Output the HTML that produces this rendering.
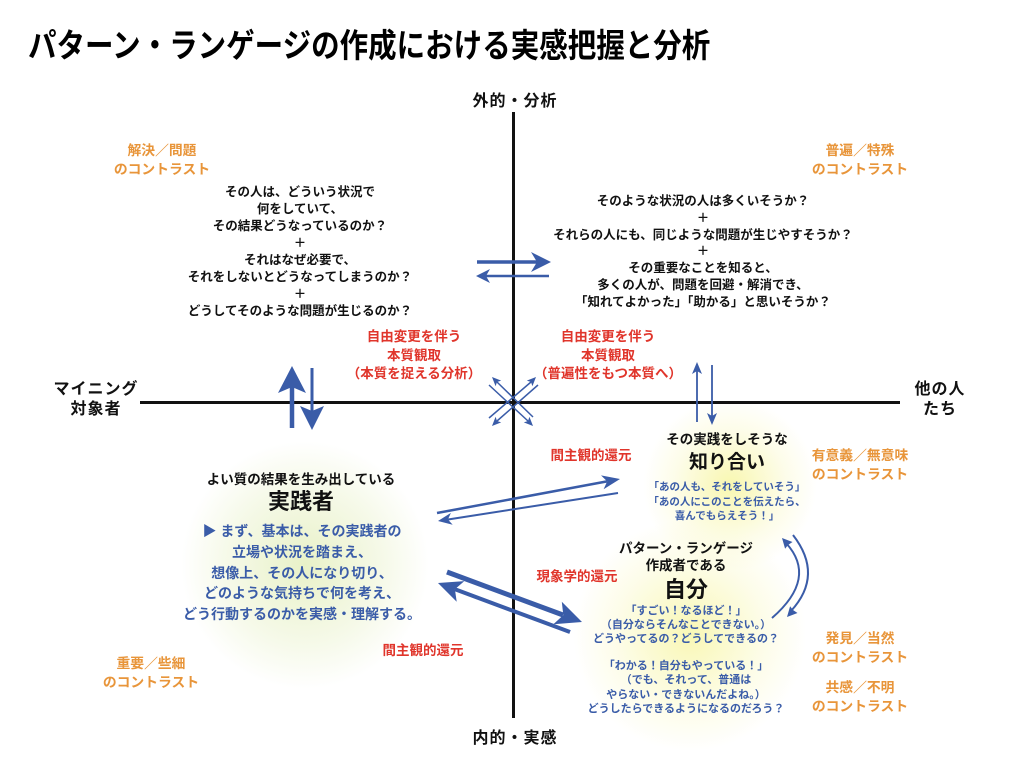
<!DOCTYPE html>
<html lang="ja">
<head>
<meta charset="utf-8">
<style>
  html,body{margin:0;padding:0;background:#fff;}
  body{width:1024px;height:768px;position:relative;overflow:hidden;
       font-family:"Liberation Sans","Noto Sans CJK JP",sans-serif;font-weight:700;color:#111;}
  .t{position:absolute;text-align:center;white-space:nowrap;transform:translateX(-50%);}
  .or{color:#e8953a;font-size:13.8px;line-height:19px;}
  .rd{color:#e0352b;font-size:13.5px;line-height:18.5px;}
  .bl{color:#3a5ca8;}
  .q{font-size:12.5px;line-height:17px;color:#111;}
  .ax{font-size:16px;line-height:20px;letter-spacing:1px;}
  .glow{position:absolute;border-radius:50%;}
  svg{position:absolute;left:0;top:0;}
</style>
</head>
<body>

<!-- glows -->
<div class="glow" style="left:180px;top:440px;width:250px;height:250px;background:radial-gradient(circle, rgba(220,234,170,0.65) 0%, rgba(232,241,200,0.4) 45%, rgba(255,255,255,0) 70%);"></div>
<div class="glow" style="left:640px;top:400px;width:180px;height:170px;background:radial-gradient(circle, rgba(246,244,150,0.75) 0%, rgba(250,249,200,0.4) 45%, rgba(255,255,255,0) 70%);"></div>
<div class="glow" style="left:570px;top:520px;width:240px;height:230px;background:radial-gradient(circle, rgba(246,244,150,0.7) 0%, rgba(250,249,200,0.4) 45%, rgba(255,255,255,0) 70%);"></div>

<svg width="1024" height="768" viewBox="0 0 1024 768">
  <!-- axes -->
  <line x1="513.5" y1="112" x2="513.5" y2="718" stroke="#111" stroke-width="3"/>
  <line x1="140" y1="402.5" x2="900" y2="402.5" stroke="#111" stroke-width="3"/>

  <g fill="#3a5ca8" stroke="none">
    <!-- horizontal arrows top -->
    <line x1="477" y1="262" x2="537" y2="262" stroke="#3a5ca8" stroke-width="3.5"/>
    <polygon points="551,262 531,272 537,262 531,252"/>
    <line x1="486" y1="276" x2="549" y2="276" stroke="#3a5ca8" stroke-width="2.5"/>
    <polygon points="476,276 490,283 486,276 490,269"/>

    <!-- left vertical arrows -->
    <line x1="292" y1="428" x2="292" y2="387" stroke="#3a5ca8" stroke-width="4.5"/>
    <polygon points="292,366 306,393 292,387 278,393"/>
    <line x1="312" y1="368" x2="312" y2="411" stroke="#3a5ca8" stroke-width="3"/>
    <polygon points="312,430 324,406 312,411 300,406"/>

    <!-- right vertical thin arrows -->
    <line x1="697" y1="422" x2="697" y2="371" stroke="#3a5ca8" stroke-width="1.8"/>
    <polygon points="697,362 702,374 697,371 692,374"/>
    <line x1="712" y1="365" x2="712" y2="416" stroke="#3a5ca8" stroke-width="1.8"/>
    <polygon points="712,425 717,413 712,416 707,413"/>

    <!-- center X arrows -->
    <line x1="533" y1="417" x2="497" y2="382" stroke="#3a5ca8" stroke-width="1.5"/>
    <polygon points="492,377 501.2,380.6 497,382 495.6,386.2"/>
    <line x1="489" y1="385" x2="528" y2="421" stroke="#3a5ca8" stroke-width="1.5"/>
    <polygon points="533,426 523.8,422.4 528,421 529.4,416.8"/>
    <line x1="489" y1="418" x2="531" y2="382" stroke="#3a5ca8" stroke-width="1.5"/>
    <polygon points="536,377 532.4,386.2 531,382 526.8,380.6"/>
    <line x1="538" y1="385" x2="497" y2="421" stroke="#3a5ca8" stroke-width="1.5"/>
    <polygon points="492,426 495.6,416.8 497,421 501.2,422.4"/>

    <!-- thin diagonal arrows to 知り合い -->
    <line x1="437" y1="513" x2="607" y2="481.4" stroke="#3a5ca8" stroke-width="2.5"/>
    <polygon points="620,479 603.6,489.2 607.2,481.4 601,475.4"/>
    <line x1="618" y1="493" x2="448" y2="519.5" stroke="#3a5ca8" stroke-width="2"/>
    <polygon points="438,521 450.9,512.9 447.9,519.5 452.7,524.7"/>

    <!-- thick diagonal arrows to 自分 -->
    <line x1="447" y1="572" x2="563" y2="615" stroke="#3a5ca8" stroke-width="5"/>
    <polygon points="582,622 553.4,624.3 563.3,615.1 561.8,601.7"/>
    <line x1="570" y1="632" x2="455" y2="589.3" stroke="#3a5ca8" stroke-width="4"/>
    <polygon points="438,583 464.3,581.1 454.9,589.3 456.7,601.7"/>

    <!-- curved arrows -->
    <path d="M772,618 Q818,578 786,543" fill="none" stroke="#3a5ca8" stroke-width="2"/>
    <polygon points="782,538 792.5,542 788,545 785.1,548.8"/>
    <path d="M793,535 Q824,575 791,611" fill="none" stroke="#3a5ca8" stroke-width="2"/>
    <polygon points="787,617 790.1,606.2 793,610 797.5,613"/>
  </g>
</svg>

<!-- title -->
<div style="position:absolute;left:28px;top:25px;font-size:33px;line-height:42px;white-space:nowrap;transform:scaleX(0.864);transform-origin:0 0;color:#000;">パターン・ランゲージの作成における実感把握と分析</div>

<!-- axis labels -->
<div class="t ax" style="left:515px;top:92px;">外的・分析</div>
<div class="t ax" style="left:515px;top:729px;">内的・実感</div>
<div class="t ax" style="left:96px;top:380px;">マイニング<br>対象者</div>
<div class="t ax" style="left:940px;top:380px;">他の人<br>たち</div>

<!-- orange contrast labels -->
<div class="t or" style="left:162px;top:141px;">解決／問題<br>のコントラスト</div>
<div class="t or" style="left:860px;top:141px;">普遍／特殊<br>のコントラスト</div>
<div class="t or" style="left:860px;top:446px;">有意義／無意味<br>のコントラスト</div>
<div class="t or" style="left:860px;top:629px;">発見／当然<br>のコントラスト</div>
<div class="t or" style="left:860px;top:678px;">共感／不明<br>のコントラスト</div>
<div class="t or" style="left:151px;top:654px;">重要／些細<br>のコントラスト</div>

<!-- question blocks -->
<div class="t q" style="left:300px;top:184px;">その人は、どういう状況で<br>何をしていて、<br>その結果どうなっているのか？<br>＋<br>それはなぜ必要で、<br>それをしないとどうなってしまうのか？<br>＋<br>どうしてそのような問題が生じるのか？</div>
<div class="t q" style="left:703px;top:193px;line-height:16.8px;">そのような状況の人は多くいそうか？<br>＋<br>それらの人にも、同じような問題が生じやすそうか？<br>＋<br>その重要なことを知ると、<br>多くの人が、問題を回避・解消でき、<br>「知れてよかった」「助かる」と思いそうか？</div>

<!-- red labels -->
<div class="t rd" style="left:414px;top:328px;">自由変更を伴う<br>本質観取<br>（本質を捉える分析）</div>
<div class="t rd" style="left:608px;top:328px;">自由変更を伴う<br>本質観取<br>（普遍性をもつ本質へ）</div>
<div class="t rd" style="left:591px;top:447px;">間主観的還元</div>
<div class="t rd" style="left:577px;top:568px;">現象学的還元</div>
<div class="t rd" style="left:423px;top:642px;">間主観的還元</div>

<!-- 実践者 -->
<div class="t" style="left:301px;top:470px;font-size:13.5px;line-height:20px;">よい質の結果を生み出している</div>
<div class="t" style="left:301px;top:488px;font-size:22px;line-height:28px;">実践者</div>
<div class="t bl" style="left:302px;top:521px;font-size:14px;line-height:20.8px;">▶ まず、基本は、その実践者の<br>立場や状況を踏まえ、<br>想像上、その人になり切り、<br>どのような気持ちで何を考え、<br>どう行動するのかを実感・理解する。</div>

<!-- 知り合い -->
<div class="t" style="left:727px;top:430px;font-size:13.5px;line-height:20px;">その実践をしそうな</div>
<div class="t" style="left:727px;top:450px;font-size:19px;line-height:26px;">知り合い</div>
<div class="t bl" style="left:727px;top:480px;font-size:10.5px;line-height:14.5px;">「あの人も、それをしていそう」<br>「あの人にこのことを伝えたら、<br>喜んでもらえそう！」</div>

<!-- 自分 -->
<div class="t" style="left:686px;top:540px;font-size:13.5px;line-height:17px;">パターン・ランゲージ<br>作成者である</div>
<div class="t" style="left:686px;top:576px;font-size:22px;line-height:28px;">自分</div>
<div class="t bl" style="left:686px;top:604px;font-size:11px;line-height:14px;">「すごい！なるほど！」<br>（自分ならそんなことできない。）<br>どうやってるの？どうしてできるの？</div>
<div class="t bl" style="left:686px;top:659px;font-size:11px;line-height:14.3px;">「わかる！自分もやっている！」<br>（でも、それって、普通は<br>やらない・できないんだよね。）<br>どうしたらできるようになるのだろう？</div>

</body>
</html>
